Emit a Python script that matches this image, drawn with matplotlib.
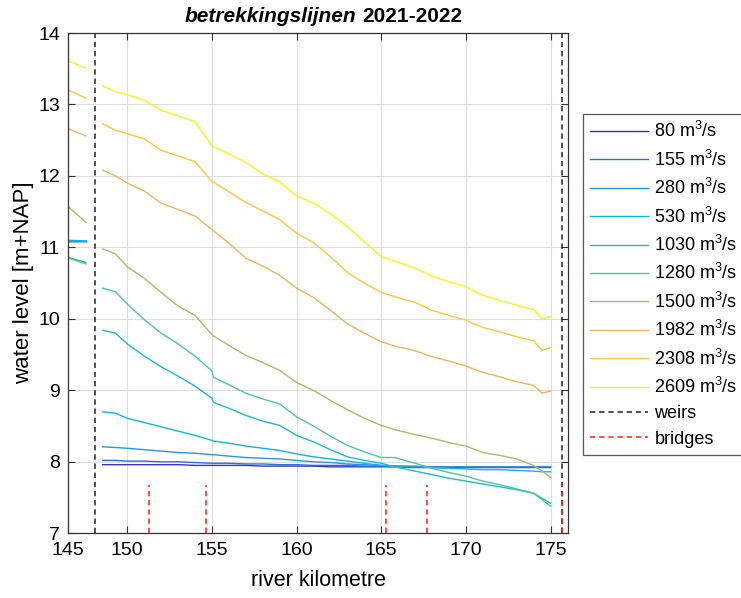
import matplotlib
matplotlib.use("Agg")
import matplotlib.pyplot as plt

plt.rcParams["font.family"] = ["Liberation Sans", "DejaVu Sans"]
plt.rcParams["mathtext.fontset"] = "custom"
plt.rcParams["mathtext.rm"] = "Liberation Sans"
plt.rcParams["mathtext.it"] = "Liberation Sans:italic"
plt.rcParams["mathtext.bf"] = "Liberation Sans:bold"

# discharge levels (m3/s) and their line colours (parula-like)
discharges = [80, 155, 280, 530, 1030, 1280, 1500, 1982, 2308, 2609]
colors = ["#3b34b4", "#2d6ee6", "#2a92e8", "#14b2e0", "#1cb9cc",
          "#4fc49c", "#a3bf6c", "#e9b65e", "#fcc73c", "#f6f418"]

# stretch upstream of the first weir
km_up = [146.52, 147.55]
wl_up = {
    80:   [11.09, 11.09],
    155:  [11.09, 11.09],
    280:  [11.09, 11.09],
    530:  [11.10, 11.09],
    1030: [10.86, 10.79],
    1280: [10.85, 10.77],
    1500: [11.57, 11.35],
    1982: [12.66, 12.56],
    2308: [13.20, 13.09],
    2609: [13.61, 13.51],
}

# main stretch between the weirs
km = [148.55, 149.3, 150, 151, 152, 153, 154, 155, 155.1, 156, 157, 158, 159,
      160, 161, 162, 163, 164, 165, 165.8, 167, 168, 169, 170, 171, 172, 173,
      174, 174.5, 175]
wl = {
    80:   [7.96, 7.96, 7.96, 7.96, 7.96, 7.96, 7.95, 7.95, 7.95, 7.95, 7.95, 7.94, 7.94,
           7.94, 7.94, 7.93, 7.93, 7.93, 7.93, 7.93, 7.92, 7.92, 7.92, 7.92, 7.92, 7.92, 7.92,
           7.92, 7.92, 7.92],
    155:  [8.02, 8.02, 8.01, 8.01, 8.00, 8.00, 7.99, 7.98, 7.98, 7.98, 7.97, 7.97, 7.96,
           7.96, 7.95, 7.95, 7.95, 7.94, 7.94, 7.94, 7.93, 7.93, 7.93, 7.93, 7.93, 7.93, 7.93,
           7.93, 7.93, 7.93],
    280:  [8.21, 8.20, 8.19, 8.17, 8.15, 8.13, 8.12, 8.10, 8.10, 8.08, 8.06, 8.05, 8.04,
           8.02, 8.00, 7.99, 7.97, 7.96, 7.95, 7.94, 7.94, 7.93, 7.93, 7.93, 7.93, 7.93, 7.93,
           7.93, 7.93, 7.93],
    530:  [8.70, 8.68, 8.61, 8.55, 8.49, 8.43, 8.37, 8.30, 8.29, 8.26, 8.22, 8.19, 8.16,
           8.11, 8.07, 8.04, 8.01, 7.98, 7.95, 7.94, 7.93, 7.92, 7.91, 7.90, 7.89, 7.89, 7.88,
           7.87, 7.86, 7.86],
    1030: [9.84, 9.80, 9.65, 9.48, 9.33, 9.20, 9.06, 8.89, 8.83, 8.75, 8.65, 8.57, 8.51,
           8.37, 8.28, 8.17, 8.07, 8.02, 7.98, 7.93, 7.87, 7.82, 7.77, 7.73, 7.69, 7.65, 7.61,
           7.56, 7.49, 7.42],
    1280: [10.43, 10.38, 10.21, 9.99, 9.80, 9.65, 9.48, 9.27, 9.18, 9.08, 8.96, 8.88, 8.81,
           8.63, 8.50, 8.36, 8.23, 8.14, 8.06, 8.06, 7.98, 7.91, 7.85, 7.80, 7.73, 7.68, 7.62,
           7.56, 7.47, 7.38],
    1500: [10.98, 10.91, 10.73, 10.57, 10.37, 10.18, 10.05, 9.78, 9.76, 9.63, 9.49, 9.39, 9.28,
           9.11, 9.00, 8.86, 8.73, 8.61, 8.51, 8.45, 8.38, 8.33, 8.27, 8.22, 8.13, 8.09, 8.04,
           7.95, 7.87, 7.78],
    1982: [12.08, 12.00, 11.90, 11.79, 11.62, 11.53, 11.44, 11.25, 11.23, 11.06, 10.85, 10.74, 10.61,
           10.43, 10.30, 10.12, 9.93, 9.80, 9.68, 9.62, 9.555, 9.47, 9.41, 9.34, 9.25, 9.19, 9.12,
           9.07, 8.96, 8.99],
    2308: [12.73, 12.64, 12.59, 12.52, 12.36, 12.28, 12.20, 11.92, 11.91, 11.78, 11.63, 11.51, 11.39,
           11.20, 11.07, 10.87, 10.65, 10.50, 10.37, 10.31, 10.23, 10.12, 10.05, 9.98, 9.88, 9.82, 9.75,
           9.69, 9.56, 9.60],
    2609: [13.26, 13.18, 13.14, 13.06, 12.92, 12.84, 12.76, 12.42, 12.41, 12.31, 12.19, 12.03, 11.92,
           11.72, 11.62, 11.47, 11.29, 11.08, 10.87, 10.81, 10.71, 10.60, 10.52, 10.45, 10.33, 10.26, 10.19,
           10.13, 10.00, 10.03],
}

weirs_km = [148.1, 175.68]
bridges_km = [151.3, 154.65, 165.31, 167.68, 175.68]
bridge_top = 7.67

x_ticks = [146.52, 150, 155, 160, 165, 170, 175]
x_ticklabels = ["145", "150", "155", "160", "165", "170", "175"]

fig = plt.figure(figsize=(7.41, 5.98), dpi=100)
ax = fig.add_axes([0.0922, 0.1082, 0.6748, 0.8366])

for q, c in zip(discharges, colors):
    ax.plot(km_up, wl_up[q], color=c, lw=1.0)
    ax.plot(km, wl[q], color=c, lw=1.0, label=f"{q} m$^3$/s")

for i, w in enumerate(weirs_km):
    ax.axvline(w, color="#222222", lw=1.1, ls=(0, (3.5, 2.5)),
               label="weirs" if i == 0 else None)
for i, b in enumerate(bridges_km):
    ax.plot([b, b], [7, bridge_top], color="#ff1a1a", lw=1.1, ls=(0, (3.5, 2.5)),
            label="bridges" if i == 0 else None)

ax.set_xlim(146.52, 176.05)
ax.set_ylim(7, 14)
ax.set_xticks(x_ticks)
ax.set_xticklabels(x_ticklabels)
ax.set_yticks(range(7, 15))
ax.grid(True, color="#dedede", lw=0.8)
ax.set_axisbelow(True)
ax.tick_params(direction="in", length=5, width=0.8, labelsize=14, color="#333333",
               top=True, right=True, pad=6)
for s in ax.spines.values():
    s.set_color("#333333")
    s.set_linewidth(0.9)

ax.set_xlabel("river kilometre", fontsize=15.5, labelpad=8)
ax.set_ylabel("water level [m+NAP]", fontsize=16, labelpad=3)

# title: italic bold first word, plain bold years
fig.text(356 / 741, 1 - 16 / 598, "betrekkingslijnen", fontsize=15, fontweight="bold",
         fontstyle="italic", ha="right", va="center")
fig.text(362 / 741, 1 - 16 / 598, "2021-2022", fontsize=15, fontweight="bold",
         ha="left", va="center")

leg = ax.legend(loc="upper left", bbox_to_anchor=(583 / 741, 1 - 114 / 598),
                bbox_transform=fig.transFigure, borderaxespad=0, fontsize=13,
                handlelength=3.2, handletextpad=0.35, labelspacing=0.46,
                borderpad=0.4, fancybox=False, framealpha=1)
leg.get_frame().set_edgecolor("#555555")
leg.get_frame().set_linewidth(0.9)

fig.savefig("out.png", dpi=100)
